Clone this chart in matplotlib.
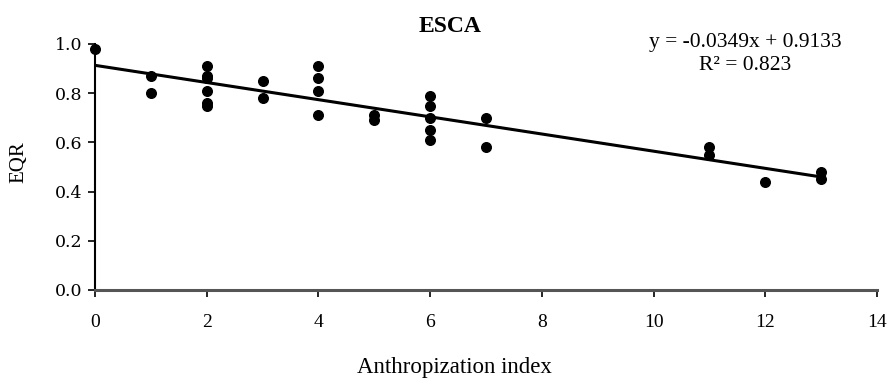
import numpy as np
import matplotlib.pyplot as plt

plt.rcParams['font.family'] = ['Liberation Serif', 'DejaVu Serif']

# Anthropization index vs EQR
anthrop = [0, 1, 1,
           2, 2, 2, 2, 2, 2,
           3, 3,
           4, 4, 4, 4,
           5, 5,
           6, 6, 6, 6, 6,
           7, 7,
           11, 11,
           12,
           13, 13]
eqr = [0.98, 0.87, 0.80,
       0.91, 0.87, 0.86, 0.81, 0.76, 0.75,
       0.85, 0.78,
       0.91, 0.86, 0.81, 0.71,
       0.71, 0.69,
       0.79, 0.75, 0.70, 0.65, 0.61,
       0.70, 0.58,
       0.58, 0.55,
       0.44,
       0.48, 0.45]

slope = -0.0349
intercept = 0.9133
r2 = 0.823

fig = plt.figure(figsize=(8.9, 3.84), dpi=100)
ax = fig.add_axes([95 / 890, 1 - 290 / 384, (877 - 95) / 890, (290 - 44) / 384])

ax.scatter(anthrop, eqr, s=48, color='black', zorder=3, clip_on=False)
xl = np.array([0, 13])
ax.plot(xl, slope * xl + intercept, color='black', lw=2.2, zorder=2)

ax.set_xlim(0, 14)
ax.set_ylim(0, 1.0)
ax.set_xticks(np.arange(0, 15, 2))
ax.set_yticks(np.arange(0, 1.01, 0.2))
ax.set_yticklabels([f'{v:.1f}' for v in np.arange(0, 1.01, 0.2)],
                   family='DejaVu Serif', fontsize=12.5)
ax.tick_params(direction='out', length=5, width=1.2, colors='black')
ax.tick_params(axis='x', labelsize=14, pad=12)
ax.tick_params(axis='y', pad=4)

for s in ['top', 'right']:
    ax.spines[s].set_visible(False)
ax.spines['left'].set_linewidth(1.5)
ax.spines['bottom'].set_linewidth(2.2)
ax.spines['bottom'].set_color('#555555')

fig.text(450 / 890, 1 - 26 / 384, 'ESCA', ha='center', va='center',
         fontsize=17, fontweight='bold')
fig.text(745 / 890, 1 - 42 / 384, f'y = {slope}x + {intercept}', ha='center',
         va='center', fontsize=15.5)
fig.text(745 / 890, 1 - 65 / 384, f'R² = {r2}', ha='center', va='center',
         fontsize=15.5)
fig.text(19 / 890, 1 - 162 / 384, 'EQR', rotation=90, ha='center',
         va='center', fontsize=15)
fig.text(454 / 890, 1 - 368 / 384, 'Anthropization index', ha='center',
         va='center', fontsize=16.5)

fig.savefig('out.png', dpi=100)
